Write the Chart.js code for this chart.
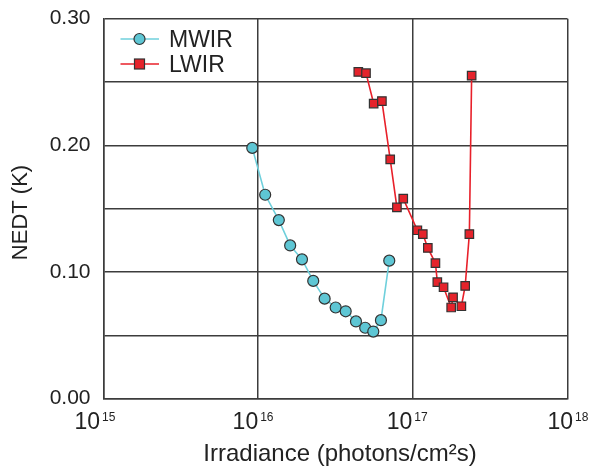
<!DOCTYPE html>
<html lang="en">
<head>
  <meta charset="UTF-8">
  <title>NEDT vs Irradiance</title>
  <script src="https://cdn.jsdelivr.net/npm/chart.js"></script>
  <style>
    html, body { margin: 0; padding: 0; background: #fff; }
  </style>
</head>
<body>
  <canvas id="nedtChart" width="589" height="469"></canvas>

  <script>
    // data
    const mwirX = [9.16e15, 1.11e16, 1.36e16, 1.61e16, 1.92e16, 2.27e16, 2.69e16, 3.17e16, 3.68e16, 4.29e16, 4.92e16, 5.55e16, 6.22e16, 7.04e16];
    const mwirY = [0.198, 0.161, 0.141, 0.121, 0.110, 0.093, 0.079, 0.072, 0.069, 0.061, 0.056, 0.053, 0.062, 0.109];

    const lwirX = [4.44e16, 4.98e16, 5.58e16, 6.31e16, 7.14e16, 7.89e16, 8.67e16, 1.07e17, 1.16e17, 1.25e17, 1.40e17, 1.44e17, 1.58e17, 1.77e17, 1.82e17, 2.06e17, 2.18e17, 2.32e17, 2.40e17];
    const lwirY = [0.258, 0.257, 0.233, 0.235, 0.189, 0.151, 0.158, 0.133, 0.130, 0.119, 0.107, 0.092, 0.088, 0.072, 0.080, 0.073, 0.089, 0.130, 0.255];

    const xDecades = [1e15, 1e16, 1e17, 1e18];
    const yLabels = [0, 0.1, 0.2, 0.3];

    const FONT = 'Liberation Sans, Arial, sans-serif';
    const GRID = '#3c3c3c';
    // small horizontal nudges of the 10^n labels, as in the original
    const xLabelShift = [-3.5, 0, -0.5, 5.5];

    function toPoints(xs, ys) {
      return xs.map((x, i) => ({ x: x, y: ys[i] }));
    }

    // draws x tick labels (10^n), axis titles and the legend
    const extras = {
      id: 'extras',
      afterDraw(chart) {
        const ctx = chart.ctx;
        const xs = chart.scales.x;
        ctx.save();
        ctx.fillStyle = '#222';
        ctx.textBaseline = 'alphabetic';

        xDecades.forEach((v, i) => {
          const px = xs.getPixelForValue(v) + xLabelShift[i];
          const exp = String(Math.round(Math.log10(v)));
          ctx.font = '23px ' + FONT;
          ctx.textAlign = 'right';
          ctx.fillText('10', px, 428.5);
          ctx.font = '12px ' + FONT;
          ctx.textAlign = 'left';
          ctx.fillText(exp, px + 2, 420.5);
        });

        // x title
        ctx.font = '24px ' + FONT;
        ctx.textAlign = 'center';
        ctx.fillText('Irradiance (photons/cm\u00b2s)', 340, 461);

        // y title
        ctx.save();
        ctx.translate(27, 212.5);
        ctx.rotate(-Math.PI / 2);
        ctx.font = '22px ' + FONT;
        ctx.textAlign = 'center';
        ctx.fillText('NEDT (K)', 0, 0);
        ctx.restore();

        // legend
        const items = [
          { label: 'MWIR', ds: chart.data.datasets[0], y: 39 },
          { label: 'LWIR', ds: chart.data.datasets[1], y: 64 }
        ];
        items.forEach(it => {
          ctx.strokeStyle = it.ds.borderColor;
          ctx.lineWidth = 1.5;
          ctx.beginPath();
          ctx.moveTo(120.5, it.y);
          ctx.lineTo(159, it.y);
          ctx.stroke();
          ctx.fillStyle = it.ds.pointBackgroundColor;
          ctx.strokeStyle = '#333';
          ctx.lineWidth = 1.2;
          if (it.ds.pointStyle === 'circle') {
            ctx.beginPath();
            ctx.arc(139.5, it.y, 5.5, 0, Math.PI * 2);
            ctx.fill();
            ctx.stroke();
          } else {
            ctx.fillRect(134.5, it.y - 5, 10, 10);
            ctx.strokeRect(134.5, it.y - 5, 10, 10);
          }
          ctx.fillStyle = '#222';
          ctx.font = '23px ' + FONT;
          ctx.textAlign = 'left';
          ctx.fillText(it.label, 169, it.y + 7.5);
        });
        ctx.restore();
      }
    };

    const ctx = document.getElementById('nedtChart').getContext('2d');

    new Chart(ctx, {
      type: 'line',
      data: {
        datasets: [{
          label: 'MWIR',
          data: toPoints(mwirX, mwirY),
          borderColor: '#6fd0dc',
          borderWidth: 1.6,
          pointStyle: 'circle',
          pointRadius: 5.5,
          pointBackgroundColor: '#5ec6d4',
          pointBorderColor: '#333',
          pointBorderWidth: 1.2,
          tension: 0
        }, {
          label: 'LWIR',
          data: toPoints(lwirX, lwirY),
          borderColor: '#e8202a',
          borderWidth: 1.6,
          pointStyle: 'rect',
          pointRadius: 6,
          pointBackgroundColor: '#e5232b',
          pointBorderColor: '#333',
          pointBorderWidth: 1.2,
          tension: 0
        }]
      },
      options: {
        responsive: false,
        animation: false,
        layout: { padding: { top: 18.7, right: 21.5, left: 0, bottom: 0 } },
        plugins: {
          legend: { display: false },
          tooltip: { enabled: false }
        },
        scales: {
          x: {
            type: 'logarithmic',
            min: 1e15,
            max: 1e18,
            afterBuildTicks(scale) {
              scale.ticks = xDecades.map(v => ({ value: v }));
            },
            afterFit(scale) {
              scale.height = 70.3;
              scale.paddingLeft = 0;
              scale.paddingRight = 0;
            },
            ticks: { display: false },
            grid: { color: GRID, lineWidth: 1.5, drawTicks: false },
            border: { color: GRID, width: 1.5 }
          },
          y: {
            min: 0,
            max: 0.30,
            afterFit(scale) {
              scale.width = 103.5;
              scale.paddingTop = 0;
              scale.paddingBottom = 0;
            },
            ticks: {
              stepSize: 0.05,
              padding: 13,
              color: '#222',
              font: { family: FONT, size: 21 },
              callback(v) {
                const hit = yLabels.find(l => Math.abs(l - v) < 1e-6);
                return hit === undefined ? '' : hit.toFixed(2);
              }
            },
            grid: { color: GRID, lineWidth: 1.5, drawTicks: false },
            border: { color: GRID, width: 1.5 }
          }
        }
      },
      plugins: [extras]
    });
  </script>
</body>
</html>
